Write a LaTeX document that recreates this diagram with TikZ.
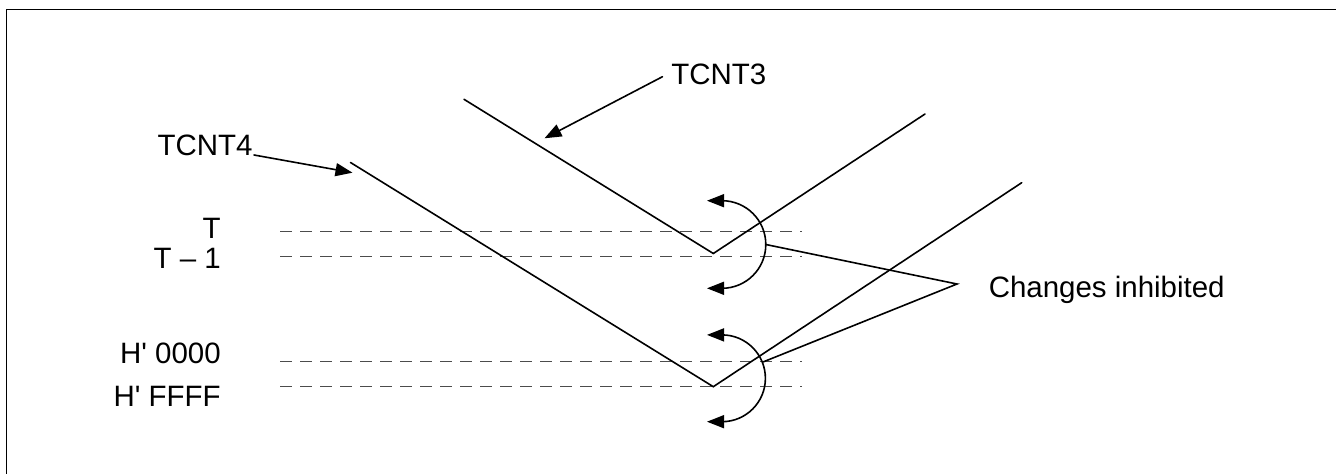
\documentclass[tikz,border=0pt]{standalone}
\usepackage{fontspec}
\setmainfont{Liberation Sans}[Ligatures=TeXOff]
\usetikzlibrary{arrows.meta}
\tikzset{
  lbl/.style={inner sep=0pt, font=\fontsize{22.1pt}{26pt}\selectfont},
  trace/.style={line width=1.2pt, line cap=round, line join=miter},
  frameline/.style={line width=0.9pt},
  dline/.style={line width=0.75pt, black!70, dash pattern=on 9pt off 6pt},
  headed/.style={trace, -{Triangle[length=12.75pt,width=9.75pt]}},
  twohead/.style={trace, {Triangle[length=12.75pt,width=9.75pt]}-{Triangle[length=12.75pt,width=9.75pt]}},
}
\begin{document}
\begin{tikzpicture}[x=0.75pt,y=-0.75pt]
\useasboundingbox (0,0) rectangle (1336,474);
% frame (top and left edges)
\coordinate (fr1) at (1340,9.5);
\coordinate (fr2) at (6.5,9.5);
\coordinate (fr3) at (6.5,478);
\draw[frameline] (fr1) -- (fr2) -- (fr3);

% level labels
\node[lbl, anchor=base east] (lT)  at (221,238.3) {T};
\node[lbl, anchor=base east] (lT1) at (221,268.3) {T – 1};
\node[lbl, anchor=base east] (lH0) at (221,363.3) {H' 0000};
\node[lbl, anchor=base east] (lHF) at (221,406)   {H' FFFF};

% dashed level lines
\coordinate (d1a) at (280,231.7); \coordinate (d1b) at (802,231.7);
\coordinate (d2a) at (280,256.7); \coordinate (d2b) at (802,256.7);
\coordinate (d3a) at (280,361.7); \coordinate (d3b) at (802,361.7);
\coordinate (d4a) at (280,386.7); \coordinate (d4b) at (802,386.7);
\draw[dline] (d1a) -- (d1b);
\draw[dline] (d2a) -- (d2b);
\draw[dline] (d3a) -- (d3b);
\draw[dline] (d4a) -- (d4b);

% counter traces
\coordinate (t3s) at (464,99.3);
\coordinate (v3)  at (713.3,253.5);
\coordinate (t3e) at (925,114);
\coordinate (t4s) at (350.5,162.5);
\coordinate (v4)  at (713.3,386.7);
\coordinate (t4e) at (1021.7,182.7);
\draw[trace] (t3s) -- (v3) -- (t3e);
\draw[trace] (t4s) -- (v4) -- (t4e);

% names with arrows
\node[lbl, anchor=base west] (n3) at (671,85) {TCNT3};
\node[lbl, anchor=base west] (n4) at (157.3,156) {TCNT4};
\coordinate (a3s) at (662.5,76.7);
\coordinate (a3e) at (544.5,138.3);
\coordinate (a4s) at (254,155);
\coordinate (a4e) at (352.5,172.7);
\draw[headed] (a3s) -- (a3e);
\draw[headed] (a4s) -- (a4e);

% curved double arrows
\coordinate (c1s) at (707,200.7);
\coordinate (c2s) at (707,334.9);
\draw[twohead] (c1s) -- ++(15,0) arc[start angle=-90, end angle=90, radius=43.8] -- ++(-15,0);
\draw[twohead] (c2s) -- ++(15,0) arc[start angle=-90, end angle=90, radius=43.4] -- ++(-15,0);

% leader to label
\coordinate (arcA) at (765.8,244.5);
\coordinate (arcB) at (763,362);
\coordinate (apex) at (957,284);
\draw[trace] (arcA) -- (apex) -- (arcB);
\node[lbl, anchor=base west] (ch) at (988.5,297) {Changes inhibited};
\end{tikzpicture}
\end{document}
